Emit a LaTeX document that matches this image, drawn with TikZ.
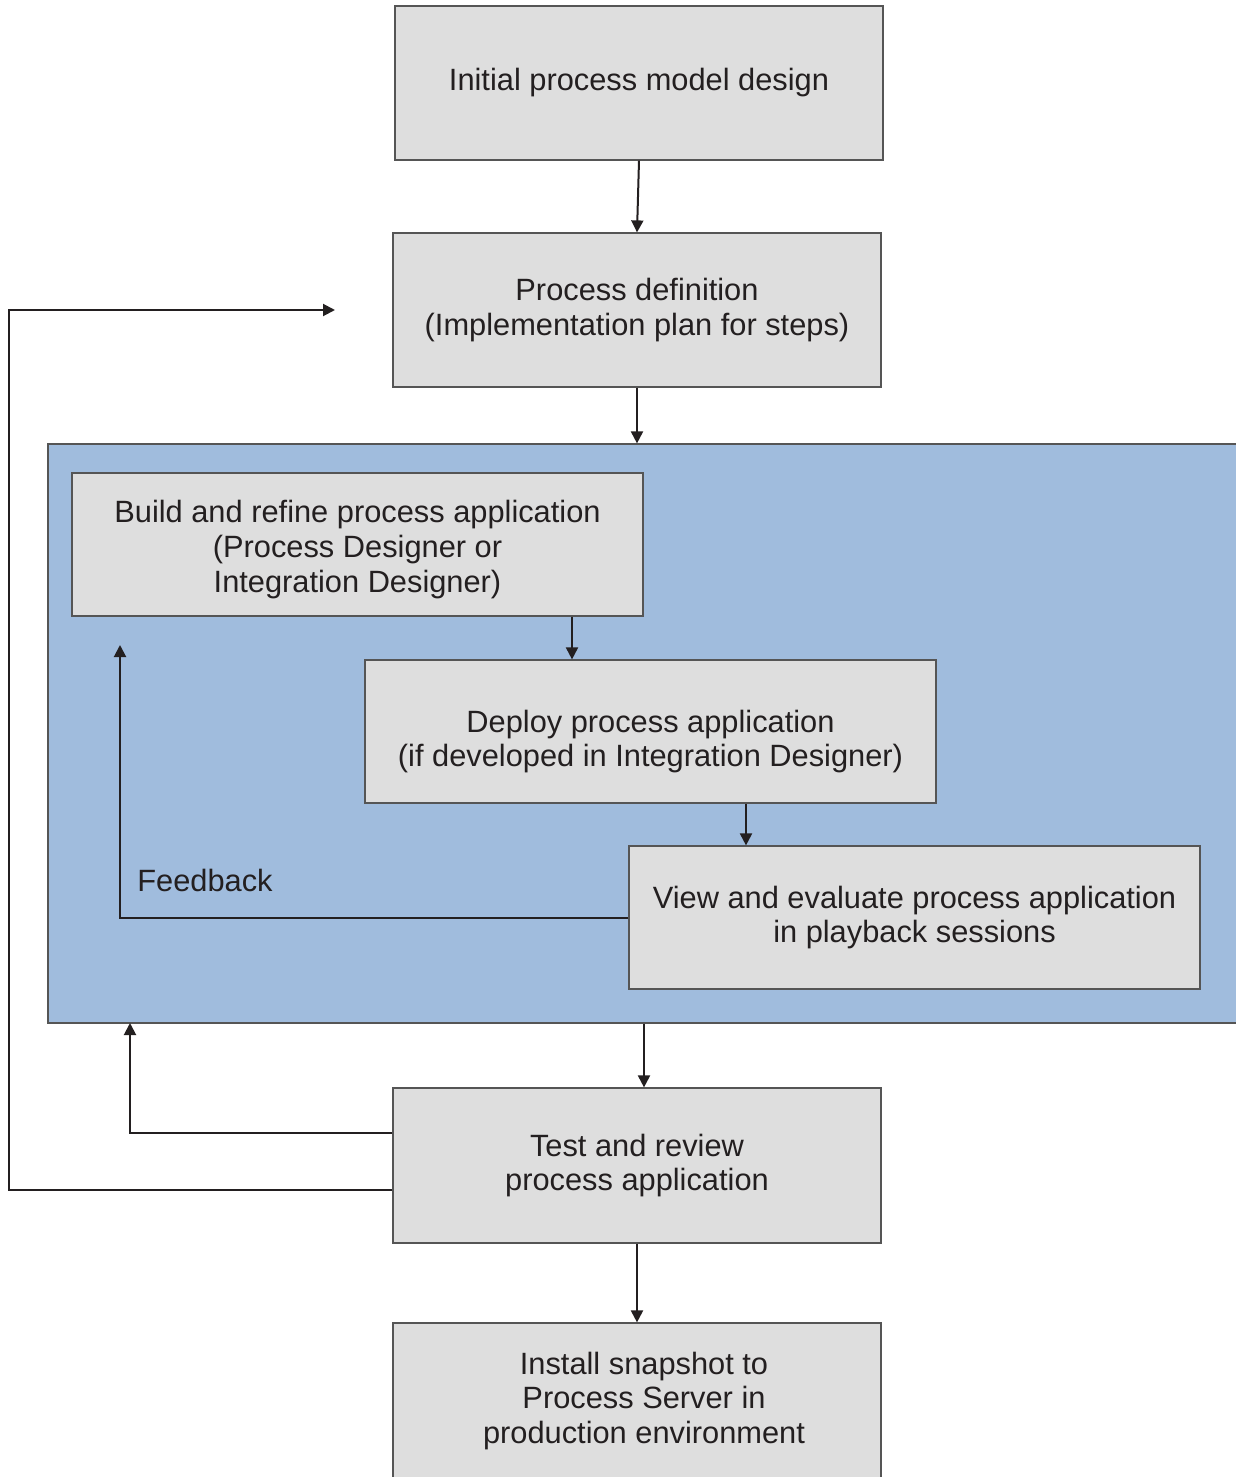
\documentclass[tikz,border=0pt]{standalone}
\usepackage{fontspec}
\setmainfont{Liberation Sans}
\usetikzlibrary{arrows.meta}

\definecolor{stepgray}{RGB}{222,222,222}
\definecolor{edgegray}{RGB}{85,85,85}
\definecolor{devblue}{RGB}{160,188,221}
\definecolor{inkdark}{RGB}{35,31,32}

\begin{document}
\begin{tikzpicture}[x=0.5pt,y=-0.5pt,
	stepbox/.style={draw=edgegray,fill=stepgray,line width=0.6pt,align=center,inner sep=0pt,text=inkdark,font=\fontsize{15.4}{17.4}\selectfont},
	steptext/.style={align=center,inner sep=0pt,text=inkdark,font=\fontsize{15.4}{17.4}\selectfont},
	flow/.style={draw=inkdark,line width=1pt,-{Triangle[length=6pt,width=6pt]}}]
\useasboundingbox (0,0) rectangle (1236,1477);
\clip (0,0) rectangle (1236,1477);

\node (dev) at (649,733.5) [draw=edgegray,fill=devblue,line width=0.6pt,minimum width=601pt,minimum height=289.5pt] {};

\node (init) at (639,83) [stepbox,minimum width=244pt,minimum height=77pt] {Initial process model design};
\node (def) at (637,310) [stepbox,minimum width=244pt,minimum height=77pt] {Process definition\\(Implementation plan for steps)};
\node (build) at (357.5,544.5) [stepbox,minimum width=285.5pt,minimum height=71.5pt] {};
\node (buildtext) at ([yshift=-2.5pt]build.center) [steptext] {Build and refine process application\\(Process Designer or\\Integration Designer)};
\node (deploy) at (650.5,731.5) [stepbox,minimum width=285.5pt,minimum height=71.5pt] {};
\node (deploytext) at ([yshift=-5pt]deploy.center) [steptext] {Deploy process application\\(if developed in Integration Designer)};
\node (view) at (914.5,917.5) [stepbox,minimum width=285.5pt,minimum height=71.5pt] {View and evaluate process application\\in playback sessions};
\node (test) at (637,1165.5) [stepbox,minimum width=244pt,minimum height=77.5pt] {Test and review\\process application};
\node (install) at (637,1403) [stepbox,minimum width=244pt,minimum height=80pt] {};
\node (installtext) at ([xshift=3.5pt,yshift=1pt]install.center) [steptext] {Install snapshot to\\Process Server in\\production environment};

\node (fbtext) at (137,880) [anchor=west,steptext] {Feedback};

\coordinate (fbk) at (120,645);
\coordinate (back) at (130,1023);
\coordinate (loop) at (335,310);

\draw[flow] (init.south) -- (def.north);
\draw[flow] (def.south) -- (def.south |- dev.north);
\draw[flow] ([xshift=107.25pt]build.south) -- ([xshift=107.25pt]build.south |- deploy.north);
\draw[flow] ([xshift=47.75pt]deploy.south) -- ([xshift=47.75pt]deploy.south |- view.north);
\draw[flow] (view.west) -| (fbk);
\draw[flow] ([xshift=3.5pt]test.north |- dev.south) -- ([xshift=3.5pt]test.north);
\draw[flow] ([yshift=16.25pt]test.west) -| (back);
\draw[flow] ([yshift=-12.25pt]test.west) -- ++(-383,0) |- (loop);
\draw[flow] (test.south) -- (install.north);
\end{tikzpicture}
\end{document}
